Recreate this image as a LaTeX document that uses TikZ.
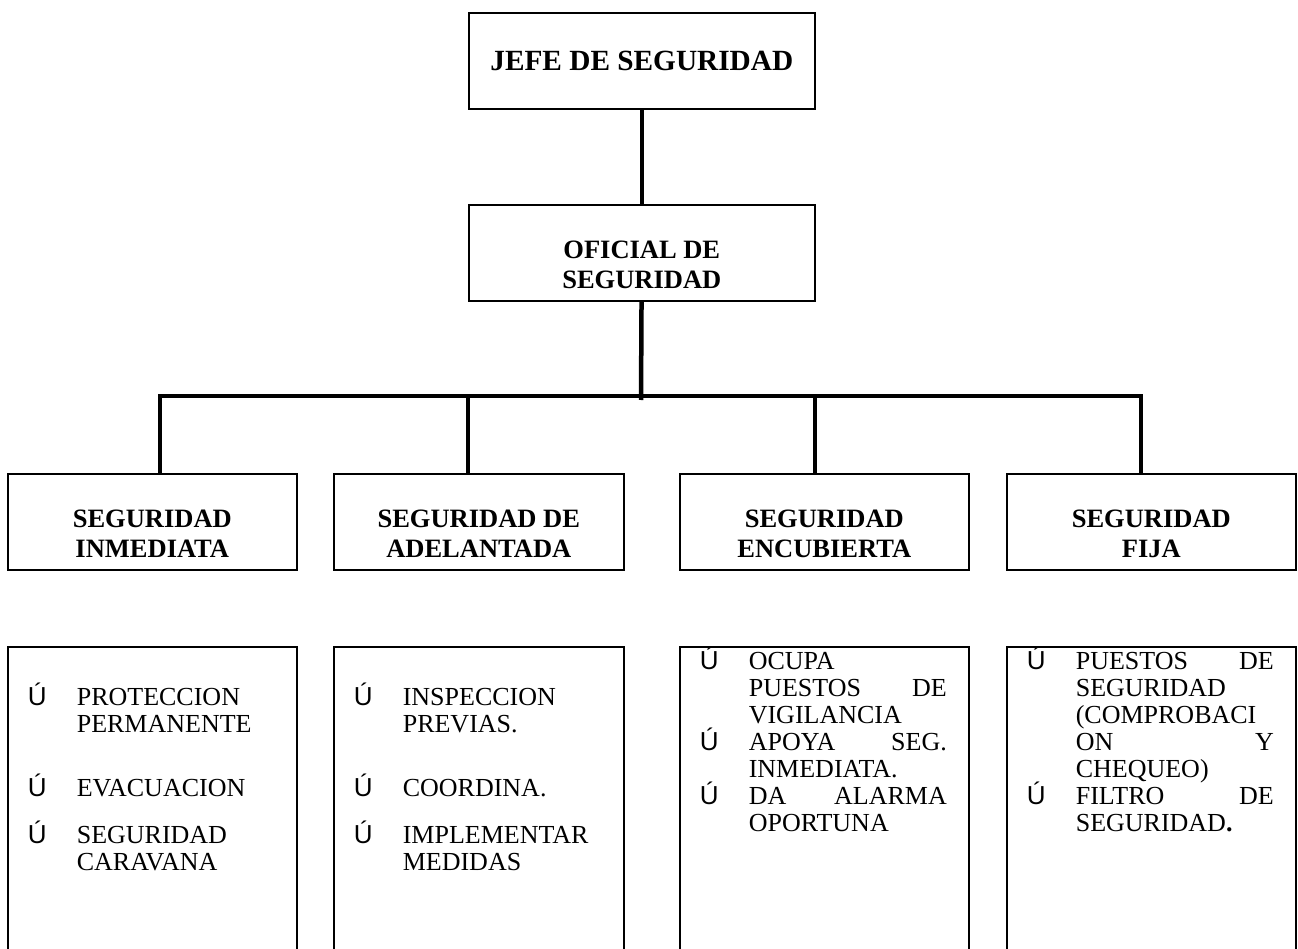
\documentclass[tikz,border=0pt]{standalone}
\usepackage{fontspec}
\setmainfont{Liberation Serif}
\newfontfamily\bulfont{Liberation Sans}
\newcommand{\bul}{\smash{\bulfont Ú}}
\newcommand{\hd}[2]{\parbox[t]{#1}{\centering\bfseries\fontsize{26.5}{30}\selectfont #2}}
\newcommand{\itm}[1]{\par\noindent\llap{\makebox[49pt][l]{\bul}}#1}
\newcommand{\lst}[2]{\parbox[t]{#1}{\fontsize{26}{27}\selectfont\parindent=0pt
  \leftskip=69pt\rightskip=\dimexpr#1-267pt\relax\lineskiplimit=-100pt\hyphenpenalty=10000 #2}}
\begin{document}
\begin{tikzpicture}[x=1pt,y=-1pt,
  box/.style={draw,line width=1.6pt,inner sep=0pt,anchor=north west},
  head/.style={box,text height=54pt,text depth=42pt},
  conn/.style={draw,line width=4.5pt}]
\useasboundingbox (0,0) rectangle (1298,949);

\node[box,minimum width=346pt,text height=58pt,text depth=38pt] (1) at (468,12)
  {\parbox[t]{346pt}{\centering\bfseries\fontsize{29.3}{33}\selectfont JEFE DE SEGURIDAD}};
\node[head,minimum width=346pt] (2) at (468,204) {\hd{346pt}{OFICIAL DE\\SEGURIDAD}};

\node[head,minimum width=289pt] (3) at (7,473) {\hd{289pt}{SEGURIDAD\\INMEDIATA}};
\node[head,minimum width=290pt] (4) at (333,473) {\hd{290pt}{SEGURIDAD DE\\ADELANTADA}};
\node[head,minimum width=289pt] (5) at (679,473) {\hd{289pt}{SEGURIDAD\\ENCUBIERTA}};
\node[head,minimum width=289pt] (6) at (1006,473) {\hd{289pt}{SEGURIDAD\\FIJA}};

\node[box,minimum width=289pt,text height=59pt,text depth=247pt] (7) at (7,646)
  {\lst{289pt}{\itm{PROTECCION\\PERMANENTE}\par\vspace{37pt}
   \itm{EVACUACION}\par\vspace{20pt}
   \itm{SEGURIDAD\\CARAVANA}}};
\node[box,minimum width=290pt,text height=59pt,text depth=247pt] (8) at (333,646)
  {\lst{290pt}{\itm{INSPECCION\\PREVIAS.}\par\vspace{37pt}
   \itm{COORDINA.}\par\vspace{20pt}
   \itm{IMPLEMENTAR\\MEDIDAS}}};
\node[box,minimum width=289pt,text height=23pt,text depth=283pt] (9) at (679,646)
  {\lst{289pt}{\itm{OCUPA\\PUESTOS\hfill DE\\VIGILANCIA}
   \itm{APOYA\hfill SEG.\\INMEDIATA.}
   \itm{DA\hfill ALARMA\\OPORTUNA}}};
\node[box,minimum width=289pt,text height=23pt,text depth=283pt] (10) at (1006,646)
  {\lst{289pt}{\itm{PUESTOS\hfill DE\\SEGURIDAD\\(COMPROBACI\\ON\hfill Y\\CHEQUEO)}
   \itm{FILTRO\hfill DE\\SEGURIDAD\textbf{.}}}};

\coordinate (a) at (160,396);
\coordinate (b) at (468,396);
\coordinate (c) at (815,396);
\coordinate (d) at (1141,396);
\coordinate (h) at (641,400);

\path[conn] (1) -- (2);
\path[conn] (2) -- (h);
\path[conn] (a |- 3.north) -- (a) -- (d) -- (d |- 6.north);
\path[conn] (b) -- (b |- 4.north);
\path[conn] (c) -- (c |- 5.north);
\end{tikzpicture}
\end{document}
